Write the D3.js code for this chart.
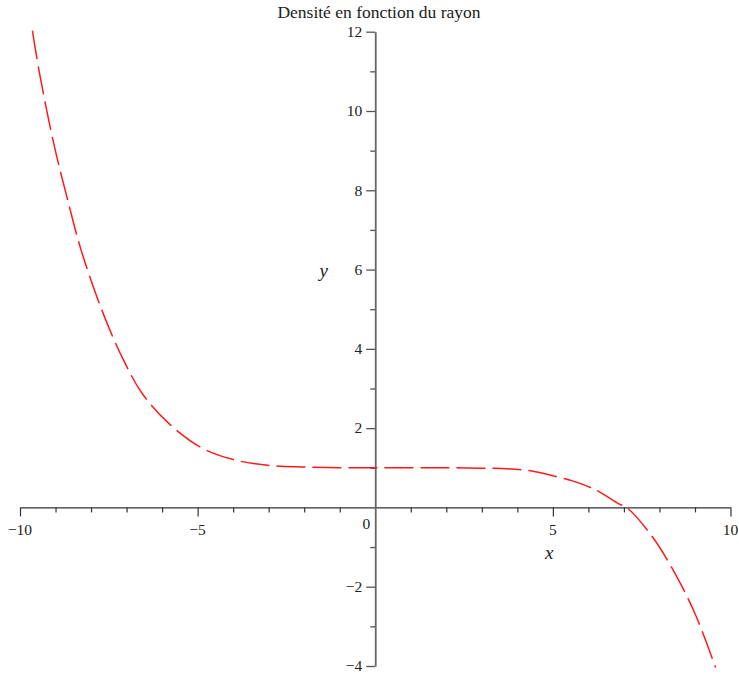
<!DOCTYPE html>
<html><head><meta charset="utf-8">
<script src="https://cdn.jsdelivr.net/npm/d3@7"></script>
<style>
html,body{margin:0;padding:0;background:#fff;}
svg{display:block;}
</style></head>
<body>
<svg id="c" width="739" height="680"></svg>
<script>
const title = "Densité en fonction du rayon";
const xLabel = "x";
const yLabel = "y";
const xDomain = [-10, 10];
const yDomain = [-4, 12];
const xMajorTicks = [-10, -5, 5, 10];
const xMinorTicks = [-9,-8,-7,-6,-4,-3,-2,-1,1,2,3,4,6,7,8,9];
const yMajorTicks = [-4, -2, 2, 4, 6, 8, 10, 12];
const yMinorTicks = [-3, -1, 1, 3, 5, 7, 9, 11];
const originLabel = "0";
// curve samples
const curveX = [-9.65,-9.45,-9.03,-8.61,-8.28,-7.67,-7.11,-6.55,-5.79,-4.86,-3.92,-2.98,-2.0,-1.0,0,1,2,2.93,3.58,4.33,5.27,5.55,6.21,6.82,7.10,7.80,8.46,9.02,9.58];
const curveY = [12.03,10.95,9.10,7.59,6.49,4.92,3.76,2.86,2.10,1.49,1.19,1.06,1.02,1.00,1.00,1.00,1.00,0.99,0.98,0.93,0.74,0.67,0.44,0.11,-0.02,-0.74,-1.70,-2.72,-4.04];

const FONT = "'Liberation Serif', 'DejaVu Serif', serif";
const svg = d3.select("#c");
const x = d3.scaleLinear().domain(xDomain).range([20, 730.5]);
const y = d3.scaleLinear().domain(yDomain).range([666, 31.7]);
const fmt = v => (v < 0 ? "\u2212" : "") + Math.abs(v);

// x axis
const gx = svg.append("g").attr("transform", `translate(0,${y(0)})`);
gx.append("g").call(d3.axisBottom(x).tickValues(xMinorTicks).tickSize(5).tickFormat(""))
  .call(g => g.select(".domain").remove());
gx.append("g").call(d3.axisBottom(x).tickValues(xMajorTicks).tickSize(9).tickSizeOuter(0).tickFormat(""))
  .call(g => g.select(".domain").attr("stroke", "#333").attr("stroke-width", 1.3));
gx.selectAll(".tick line").attr("stroke", "#333").attr("stroke-width", 1.2);

svg.append("g").selectAll("text").data(xMajorTicks).join("text")
  .attr("x", d => x(d)).attr("y", y(0) + 28).attr("font-family", FONT).attr("fill", "#222")
  .attr("text-anchor", "middle").attr("font-size", 15.5).text(fmt);

// y axis
const gy = svg.append("g").attr("transform", `translate(${x(0)},0)`);
gy.append("g").call(d3.axisLeft(y).tickValues(yMinorTicks).tickSize(5).tickFormat(""))
  .call(g => g.select(".domain").remove());
gy.append("g").call(d3.axisLeft(y).tickValues(yMajorTicks).tickSize(9).tickSizeOuter(0).tickFormat(""))
  .call(g => g.select(".domain").attr("stroke", "#666").attr("stroke-width", 1.8));
gy.selectAll(".tick line").attr("stroke", "#555").attr("stroke-width", 1.3);

svg.append("g").selectAll("text").data(yMajorTicks).join("text")
  .attr("x", x(0) - 13).attr("y", d => y(d)).attr("dy", "0.34em").attr("font-family", FONT).attr("fill", "#222")
  .attr("text-anchor", "end").attr("font-size", 15.5).text(fmt);

svg.append("text").attr("x", x(0) - 9).attr("y", y(0) + 22).attr("font-family", FONT).attr("fill", "#222")
  .attr("text-anchor", "middle").attr("font-size", 15.5).text(originLabel);

// axis labels
svg.append("text").attr("x", x(4.9)).attr("y", y(-1.3)).attr("text-anchor", "middle").attr("font-family", FONT).attr("fill", "#222")
  .attr("font-size", 19).attr("font-style", "italic").text(xLabel);
svg.append("text").attr("x", x(-1.45)).attr("y", y(5.8)).attr("text-anchor", "middle").attr("font-family", FONT).attr("fill", "#222")
  .attr("font-size", 19).attr("font-style", "italic").text(yLabel);

// title
svg.append("text").attr("x", 379).attr("y", 18).attr("text-anchor", "middle").attr("font-family", FONT).attr("fill", "#222")
  .attr("font-size", 17.5).text(title);

// curve
const pts = curveX.map((v, i) => [v, curveY[i]]);
svg.append("path").datum(pts)
  .attr("fill", "none").attr("stroke", "#ff1a1a").attr("stroke-width", 1.5)
  .attr("stroke-dasharray", "29,7")
  .attr("d", d3.line().x(d => x(d[0])).y(d => y(d[1])).curve(d3.curveCatmullRom.alpha(0.5)));
</script>
</body></html>
